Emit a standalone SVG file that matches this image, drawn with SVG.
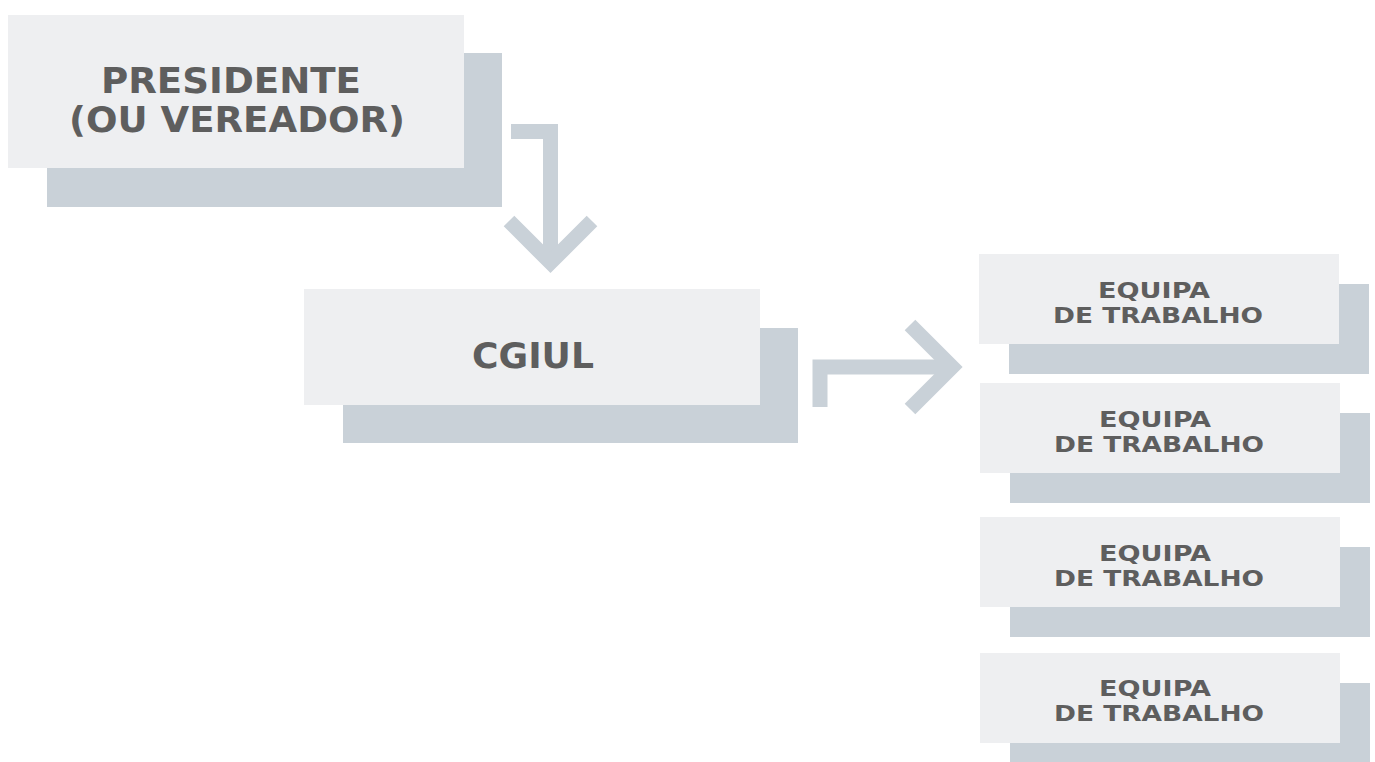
<svg xmlns="http://www.w3.org/2000/svg" width="1375" height="762" viewBox="0 0 1375 762">
<style>
.front{fill:#eeeff1}
.back{fill:#c9d1d8}
.t{font-family:"DejaVu Sans","Liberation Sans",sans-serif;font-weight:bold;fill:#5e5e5e;text-anchor:middle}
.big{font-size:35px}
.small{font-size:22px}
.arrow{fill:none;stroke:#c9d1d8;stroke-width:15;stroke-linejoin:miter;stroke-miterlimit:10}
</style>
<rect width="1375" height="762" fill="#ffffff"/>
<g id="connectors">
<path class="arrow" d="M511 131.5 H550.5 V262"/>
<polyline class="arrow" points="509,221 550.5,262.5 592,221"/>
<path class="arrow" d="M820 407 V367 H950"/>
<polyline class="arrow" points="910,325 952,367 910,409"/>
</g>
<g id="presidente">
<rect class="back" x="47" y="53" width="455" height="154"/>
<rect class="front" x="8" y="15" width="456" height="153"/>
<text class="t big" x="231" y="93" textLength="260" lengthAdjust="spacingAndGlyphs">PRESIDENTE</text>
<text class="t big" x="237" y="132" textLength="336" lengthAdjust="spacingAndGlyphs">(OU VEREADOR)</text>
</g>
<g id="cgiul">
<rect class="back" x="343" y="328" width="455" height="115"/>
<rect class="front" x="304" y="289" width="456" height="116"/>
<text class="t big" x="533" y="368" textLength="122" lengthAdjust="spacingAndGlyphs">CGIUL</text>
</g>
<g id="equipa1">
<rect class="back" x="1009" y="284" width="360" height="90"/>
<rect class="front" x="979" y="254" width="360" height="90"/>
<text class="t small" x="1154" y="298" textLength="112" lengthAdjust="spacingAndGlyphs">EQUIPA</text>
<text class="t small" x="1158" y="323" textLength="210" lengthAdjust="spacingAndGlyphs">DE TRABALHO</text>
</g>
<g id="equipa2">
<rect class="back" x="1010" y="413" width="360" height="90"/>
<rect class="front" x="980" y="383" width="360" height="90"/>
<text class="t small" x="1155" y="427" textLength="112" lengthAdjust="spacingAndGlyphs">EQUIPA</text>
<text class="t small" x="1159" y="452" textLength="210" lengthAdjust="spacingAndGlyphs">DE TRABALHO</text>
</g>
<g id="equipa3">
<rect class="back" x="1010" y="547" width="360" height="90"/>
<rect class="front" x="980" y="517" width="360" height="90"/>
<text class="t small" x="1155" y="561" textLength="112" lengthAdjust="spacingAndGlyphs">EQUIPA</text>
<text class="t small" x="1159" y="586" textLength="210" lengthAdjust="spacingAndGlyphs">DE TRABALHO</text>
</g>
<g id="equipa4">
<rect class="back" x="1010" y="683" width="360" height="90"/>
<rect class="front" x="980" y="653" width="360" height="90"/>
<text class="t small" x="1155" y="696" textLength="112" lengthAdjust="spacingAndGlyphs">EQUIPA</text>
<text class="t small" x="1159" y="721" textLength="210" lengthAdjust="spacingAndGlyphs">DE TRABALHO</text>
</g>
</svg>
